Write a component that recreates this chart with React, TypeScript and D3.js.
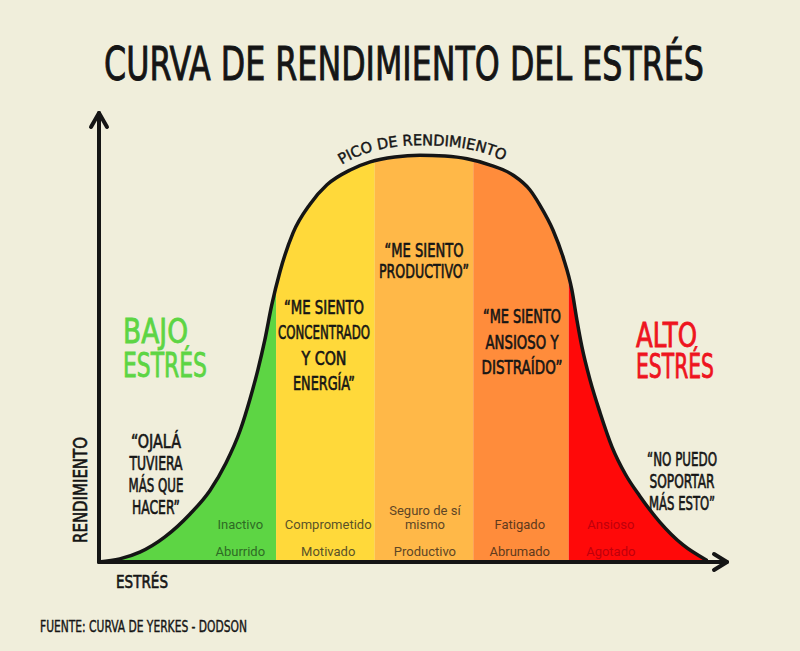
import React from "react";
import * as d3 from "d3";

// ---- data ----
const stress = [0, 3.3, 6.5, 10.5, 14.5, 17.7, 20.2, 22.5, 24.0, 25.3, 26.4, 27.5, 28.8, 30.9, 33.6, 36.3, 40.0, 43.2, 47.1, 51.1, 55.1, 58.6, 62.3, 65.9, 68.6, 70.2, 72.3, 73.9, 75.3, 76.1, 76.9, 78.2, 79.8, 81.7, 83.8, 86.1, 89.3, 93.0, 96.7];
const performance = [0, 0.7, 2.2, 5.6, 10.7, 16.0, 22.0, 29.4, 36.1, 42.8, 49.4, 57.2, 64.6, 73.3, 79.7, 84.0, 87.3, 89.1, 90.2, 90.6, 90.4, 89.8, 88.4, 86.2, 82.9, 79.5, 73.9, 67.9, 60.6, 53.9, 47.9, 40.5, 33.2, 25.6, 19.6, 14.7, 8.9, 3.8, 0.45];

const bandEdges = [0, 28.2, 43.9, 59.6, 74.8, 100];
const bandLabelX = [22.5, 36.5, 51.9, 67.0, 81.5];
const bandUpper = [["Inactivo"], ["Comprometido"], ["Seguro de sí", "mismo"], ["Fatigado"], ["Ansioso"]];
const bandLower = ["Aburrido", "Motivado", "Productivo", "Abrumado", "Agotado"];

const title = "CURVA DE RENDIMIENTO DEL ESTRÉS";
const peakLabel = "PICO DE RENDIMIENTO";
const yLabel = "RENDIMIENTO";
const xLabel = "ESTRÉS";
const source = "FUENTE: CURVA DE YERKES - DODSON";
const lowLabel = ["BAJO", "ESTRÉS"];
const highLabel = ["ALTO", "ESTRÉS"];
const quoteLow = ["\u201COJALÁ", "TUVIERA", "MÁS QUE", "HACER\u201D"];
const quoteFocus = ["\u201CME SIENTO", "CONCENTRADO", "Y CON", "ENERGÍA\u201D"];
const quoteProd = ["\u201CME SIENTO", "PRODUCTIVO\u201D"];
const quoteAnx = ["\u201CME SIENTO", "ANSIOSO Y", "DISTRAÍDO\u201D"];
const quoteHigh = ["\u201CNO PUEDO", "SOPORTAR", "MÁS ESTO\u201D"];

// ---- style ----
const W = 800, H = 651;
const BG = "#f0eedb";
const bandColors = ["#5dd544", "#ffd93a", "#ffb848", "#ff8c3b", "#ff0909"];
const bandTextColors = ["#2e6a25", "#5a5228", "#5e4626", "#603a1c", "#c0000c"];
const HAND = "'DejaVu Sans Condensed', 'Liberation Sans Narrow', 'DejaVu Sans', sans-serif";
const INK = "#151515";

function Hand({ x, y, lines, widths, size, dy, fill = INK, anchor = "middle", sw = 0.6 }: any) {
  return (
    <g>
      {lines.map((t: string, i: number) => (
        <text
          key={i}
          x={x}
          y={y + i * dy}
          fontFamily={HAND}
          fontSize={size}
          fill={fill}
          stroke={fill}
          strokeWidth={sw}
          textAnchor={anchor}
          textLength={widths[i]}
          lengthAdjust="spacingAndGlyphs"
        >
          {t}
        </text>
      ))}
    </g>
  );
}

export default function App() {
  const x = d3.scaleLinear().domain([0, 100]).range([99, 727]);
  const y = d3.scaleLinear().domain([0, 100]).range([562, 113]);
  const pts: [number, number][] = stress.map((s, i) => [s, performance[i]]);

  const line = d3.line<[number, number]>().x(d => x(d[0])).y(d => y(d[1])).curve(d3.curveMonotoneX);
  const area = d3.area<[number, number]>().x(d => x(d[0])).y0(y(0)).y1(d => y(d[1])).curve(d3.curveMonotoneX);
  const peakPts = pts.filter(d => d[0] >= 36 && d[0] <= 67);
  const peakLine = d3.line<[number, number]>().x(d => x(d[0])).y(d => y(d[1]) - 10).curve(d3.curveMonotoneX);

  const x0 = x(0), y0 = y(0);
  const yTop = y(100), xEnd = x(100);

  return (
    <svg width={W} height={H} style={{ position: "absolute", left: 0, top: 0, background: BG }}>
      <rect width={W} height={H} fill={BG} />
      <defs>
        <clipPath id="under">
          <path d={area(pts) || ""} />
        </clipPath>
        <path id="peakPath" d={peakLine(peakPts) || ""} />
      </defs>

      {/* title */}
      <Hand x={404} y={80} lines={[title]} widths={[600]} size={46} dy={0} sw={0.9} />

      {/* bands */}
      <g clipPath="url(#under)">
        {bandColors.map((c, i) => (
          <rect key={i} x={x(bandEdges[i])} y={yTop} width={x(bandEdges[i + 1]) - x(bandEdges[i])} height={y0 - yTop} fill={c} />
        ))}
      </g>

      {/* band labels */}
      {bandLower.map((t, i) => (
        <g key={i} fontFamily="Roboto, sans-serif" fontSize={13} fill={bandTextColors[i]} textAnchor="middle">
          {bandUpper[i].map((u, j) => (
            <text key={j} x={x(bandLabelX[i])} y={529 - (bandUpper[i].length - 1 - j) * 14}>{u}</text>
          ))}
          <text x={x(bandLabelX[i])} y={556}>{t}</text>
        </g>
      ))}

      {/* curve */}
      <path d={line(pts) || ""} fill="none" stroke={INK} strokeWidth={3.5} strokeLinejoin="round" strokeLinecap="round" />

      {/* axes */}
      <g stroke={INK} strokeWidth={4} strokeLinecap="round" strokeLinejoin="round" fill="none">
        <line x1={x0} y1={y0} x2={x0} y2={yTop} />
        <polyline points={`${x0 - 8},${yTop + 14} ${x0},${yTop} ${x0 + 8},${yTop + 14}`} />
        <line x1={x0} y1={y0} x2={xEnd} y2={y0} />
        <polyline points={`${xEnd - 13},${y0 - 8} ${xEnd},${y0} ${xEnd - 13},${y0 + 8}`} />
      </g>

      {/* peak label */}
      <text fontFamily={HAND} fontSize={15} fill={INK} stroke={INK} strokeWidth={0.4} textAnchor="middle">
        <textPath href="#peakPath" startOffset="52%" textLength={168} lengthAdjust="spacingAndGlyphs">{peakLabel}</textPath>
      </text>

      {/* zone labels */}
      <Hand x={123} y={343} lines={lowLabel} widths={[65, 84]} size={33} dy={34} fill="#5dd544" anchor="start" sw={0.8} />
      <Hand x={636} y={347} lines={highLabel} widths={[61, 78]} size={33} dy={31} fill="#ee1420" anchor="start" sw={0.8} />

      {/* quotes */}
      <Hand x={156} y={448} lines={quoteLow} widths={[50, 53, 55, 48]} size={19} dy={22} />
      <Hand x={324} y={314} lines={quoteFocus} widths={[80, 92, 45, 62]} size={19} dy={25.3} />
      <Hand x={424} y={257} lines={quoteProd} widths={[79, 90]} size={19} dy={21} />
      <Hand x={522} y={323} lines={quoteAnx} widths={[78, 73, 81]} size={19} dy={25.5} />
      <Hand x={682} y={466} lines={quoteHigh} widths={[70, 65, 66]} size={19} dy={22} />

      {/* axis labels */}
      <g transform="translate(87,490) rotate(-90)">
        <Hand x={0} y={0} lines={[yLabel]} widths={[106]} size={19} dy={0} />
      </g>
      <Hand x={116} y={588} lines={[xLabel]} widths={[52]} size={18} dy={0} anchor="start" />
      <Hand x={40} y={632} lines={[source]} widths={[207]} size={16} dy={0} anchor="start" sw={0.4} />
    </svg>
  );
}
